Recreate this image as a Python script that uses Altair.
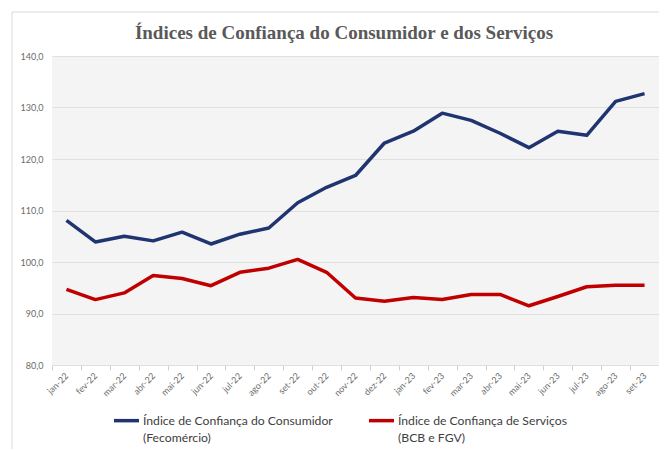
import altair as alt
import pandas as pd

months = ["jan-22", "fev-22", "mar-22", "abr-22", "mai-22", "jun-22", "jul-22",
          "ago-22", "set-22", "out-22", "nov-22", "dez-22", "jan-23", "fev-23",
          "mar-23", "abr-23", "mai-23", "jun-23", "jul-23", "ago-23", "set-23"]
consumidor = [108.1, 103.9, 105.0, 104.1, 105.8, 103.5, 105.4, 106.6, 111.5, 114.5,
              116.8, 123.1, 125.4, 128.9, 127.5, 125.0, 122.2, 125.4, 124.6, 131.2, 132.7]
servicos = [94.7, 92.7, 94.0, 97.4, 96.8, 95.4, 98.0, 98.8, 100.5, 98.0,
            93.0, 92.4, 93.1, 92.7, 93.7, 93.7, 91.5, 93.3, 95.2, 95.5, 95.5]
series_names = ["Índice de Confiança do Consumidor|(Fecomércio)",
                "Índice de Confiança de Serviços|(BCB e FGV)"]
colors = ["#1F3470", "#C00000"]
y_ticks = [80, 90, 100, 110, 120, 130, 140]
title_text = "Índices de Confiança do Consumidor e dos Serviços"

rows = []
for m, a, b in zip(months, consumidor, servicos):
    rows.append({"mes": m, "serie": series_names[0], "valor": a})
    rows.append({"mes": m, "serie": series_names[1], "valor": b})
df = pd.DataFrame(rows)

lines = alt.Chart(df).mark_line(strokeWidth=3.5, strokeJoin="round").encode(
    x=alt.X("mes:N", sort=months, bandPosition=0.5,
            scale=alt.Scale(type="band", paddingInner=0, paddingOuter=0),
            axis=alt.Axis(title=None, labelAngle=-45, labelAlign="right",
                          labelBaseline="middle", labelFontSize=9,
                          labelColor="#6b6b6b", labelFont="Lato",
                          tickBand="extent", tickColor="#d0d0d0", tickSize=5,
                          domain=False, grid=False, labelPadding=4)),
    y=alt.Y("valor:Q", scale=alt.Scale(domain=[80, 140], nice=False, zero=False),
            axis=alt.Axis(title=None, values=y_ticks, labelFontSize=9,
                          labelColor="#6b6b6b", labelFont="Lato",
                          labelExpr="replace(format(datum.value, '.1f'), '.', ',')",
                          ticks=False, domain=False, gridColor="#e0e0e0",
                          labelPadding=9)),
    color=alt.Color("serie:N", sort=series_names,
                    scale=alt.Scale(domain=series_names, range=colors),
                    legend=alt.Legend(title=None, orient="none", legendX=60,
                                      legendY=350, direction="horizontal",
                                      columns=2, columnPadding=29,
                                      symbolType="stroke", symbolSize=625,
                                      symbolStrokeWidth=3.5, labelFont="Lato",
                                      labelFontSize=12.2, labelColor="#404040",
                                      labelLimit=400, labelOffset=2,
                                      labelExpr="split(datum.label, '|')")),
)

base = alt.Chart(pd.DataFrame({"a": [0]}))
frame = base.mark_rect(fill=None, stroke="#d9d9d9", strokeWidth=1).encode(
    x=alt.value(-40), x2=alt.value(800), y=alt.value(-44), y2=alt.value(600))
title = base.mark_text(font="Liberation Serif", fontSize=19, fontWeight="bold",
                       color="#595959", align="center", baseline="middle").encode(
    text=alt.value(title_text), x=alt.value(292), y=alt.value(-23))

chart = alt.layer(frame, title, lines).properties(
    width=607, height=309,
    padding={"left": 44, "top": 48, "right": 0, "bottom": 84},
    autosize=alt.AutoSizeParams(type="none"),
    background="white",
).configure(style={"guide-label": {"lineHeight": 17}}).configure_view(
    fill="#f4f4f4", stroke=None
)

chart.save("out.html", embed_options={"renderer": "svg", "actions": False})
